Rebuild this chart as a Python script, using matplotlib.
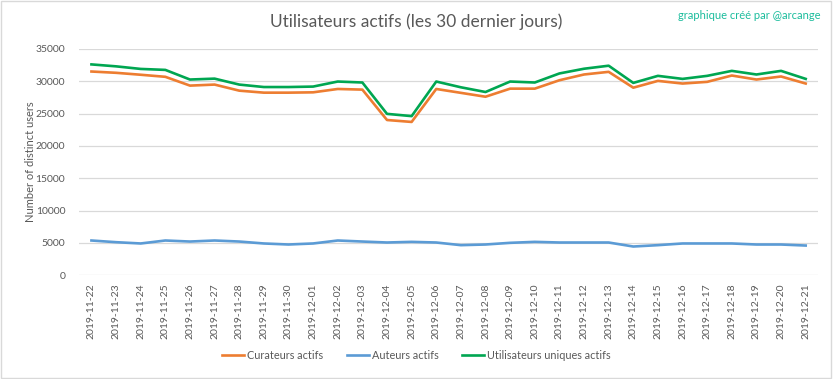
import matplotlib.pyplot as plt
from matplotlib.patches import Rectangle

plt.rcParams['font.family'] = ['Lato', 'DejaVu Sans']

# données
dates = ["2019-11-22", "2019-11-23", "2019-11-24", "2019-11-25", "2019-11-26",
         "2019-11-27", "2019-11-28", "2019-11-29", "2019-11-30", "2019-12-01",
         "2019-12-02", "2019-12-03", "2019-12-04", "2019-12-05", "2019-12-06",
         "2019-12-07", "2019-12-08", "2019-12-09", "2019-12-10", "2019-12-11",
         "2019-12-12", "2019-12-13", "2019-12-14", "2019-12-15", "2019-12-16",
         "2019-12-17", "2019-12-18", "2019-12-19", "2019-12-20", "2019-12-21"]

curateurs = [31500, 31300, 31000, 30680, 29320, 29480, 28540, 28230, 28230, 28280,
             28800, 28700, 24000, 23700, 28800, 28200, 27600, 28850, 28850, 30150,
             31040, 31450, 29000, 30050, 29640, 29900, 30880, 30260, 30730, 29640]

auteurs = [5360, 5100, 4900, 5360, 5200, 5360, 5200, 4900, 4740, 4900,
           5360, 5200, 5050, 5150, 5050, 4640, 4740, 5000, 5150, 5050,
           5050, 5050, 4430, 4640, 4900, 4900, 4900, 4740, 4740, 4580]

uniques = [32600, 32300, 31900, 31750, 30260, 30400, 29480, 29100, 29100, 29170,
           29950, 29800, 24950, 24600, 29950, 29060, 28330, 29950, 29800, 31200,
           31930, 32400, 29740, 30830, 30360, 30830, 31600, 31040, 31600, 30360]

grey = "#595959"

fig = plt.figure(figsize=(8.33, 3.79), dpi=100)
ax = fig.add_axes([0.095, 0.274, 0.887, 0.597])

x = range(len(dates))
ax.plot(x, curateurs, color="#ED7D31", linewidth=1.9, label="Curateurs actifs")
ax.plot(x, auteurs, color="#5B9BD5", linewidth=1.9, label="Auteurs actifs")
ax.plot(x, uniques, color="#00A651", linewidth=1.9, label="Utilisateurs uniques actifs")

ax.set_xlim(-0.5, len(dates) - 0.5)
ax.set_ylim(0, 35000)
ax.set_yticks(range(0, 35001, 5000))
ax.set_xticks(list(x))
ax.set_xticklabels(dates, rotation=90, fontsize=7.5, color=grey)
ax.tick_params(axis='y', labelsize=7.5, labelcolor=grey, length=0, pad=10)
ax.tick_params(axis='x', length=0, pad=6)
ax.grid(axis='y', color="#D9D9D9", linewidth=0.9)
ax.set_axisbelow(True)
for s in ax.spines.values():
    s.set_visible(False)

ax.set_ylabel("Number of distinct users", fontsize=8, color=grey)
ax.yaxis.set_label_coords(-0.058, 0.5)

fig.text(0.5, 0.942, "Utilisateurs actifs (les 30 dernier jours)", ha='center', va='center',
         fontsize=12.5, color=grey)
fig.text(0.985, 0.96, "graphique créé par @arcange", ha='right', va='center',
         fontsize=8, color="#1ABC9C")

fig.legend(loc='center', bbox_to_anchor=(0.5, 0.063), ncol=3, frameon=False,
           fontsize=7.8, labelcolor=grey, handlelength=2.0, handletextpad=0.3,
           columnspacing=2.2)

fig.patches.append(Rectangle((0.001, 0.002), 0.997, 0.995, transform=fig.transFigure,
                             fill=False, edgecolor="#D9D9D9", linewidth=1))

fig.savefig("out.png", dpi=100)
